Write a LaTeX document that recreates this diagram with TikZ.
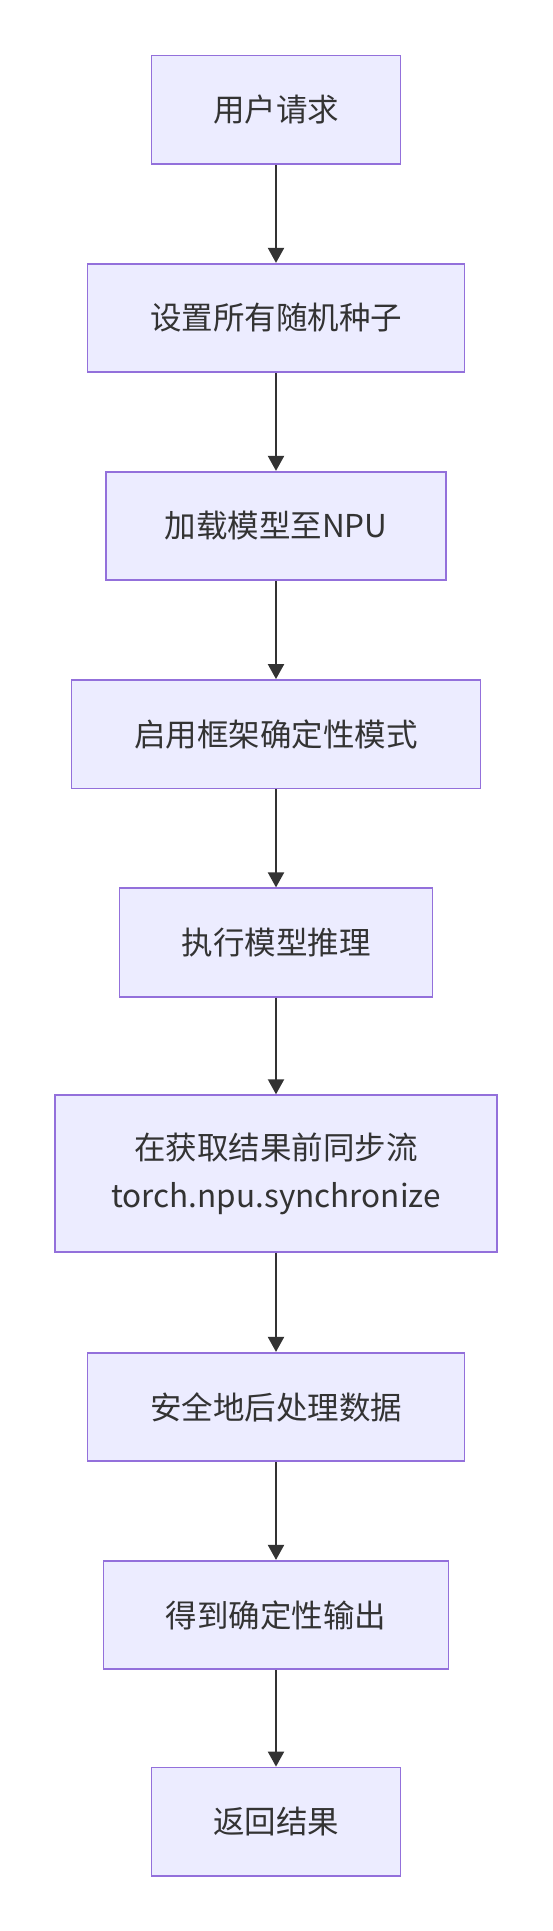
\documentclass[tikz,border=0pt]{standalone}
\usepackage{fontspec}
\setmainfont{Noto Sans CJK SC}
\usetikzlibrary{arrows.meta}
\definecolor{boxfill}{HTML}{ECECFF}
\definecolor{boxdraw}{HTML}{9370DB}
\definecolor{txt}{HTML}{333333}
\begin{document}
\begin{tikzpicture}[x=1pt,y=-1pt,
  stepbox/.style={draw=boxdraw,fill=boxfill,line width=1.7pt,text=txt,
    font=\fontsize{31.5}{48}\selectfont,align=center,inner sep=0pt,
    minimum height=108.5pt},
  conn/.style={draw=txt,line width=2pt,-{Triangle[length=15pt,width=16pt]}}]
\useasboundingbox (0,0) rectangle (552,1931);
\node[stepbox,minimum width=248.8pt] (n1) at (276,109.8) {用户请求};
\node[stepbox,minimum width=377pt] (n2) at (276,318) {设置所有随机种子};
\node[stepbox,minimum width=340pt] (n3) at (276,526) {加载模型至NPU};
\node[stepbox,minimum width=409pt] (n4) at (276,734.2) {启用框架确定性模式};
\node[stepbox,minimum width=313pt] (n5) at (276,942.5) {执行模型推理};
\node[stepbox,minimum width=441.4pt,minimum height=156.5pt] (n6) at (276,1173.4) {在获取结果前同步流\\torch.npu.synchronize};
\node[stepbox,minimum width=377pt] (n7) at (276,1407) {安全地后处理数据};
\node[stepbox,minimum width=345pt] (n8) at (276,1615) {得到确定性输出};
\node[stepbox,minimum width=248.8pt] (n9) at (276,1821.7) {返回结果};
\foreach \a/\b in {n1/n2,n2/n3,n3/n4,n4/n5,n5/n6,n6/n7,n7/n8,n8/n9}
  \draw[conn] (\a.south) -- (\b.north);
\end{tikzpicture}
\end{document}
